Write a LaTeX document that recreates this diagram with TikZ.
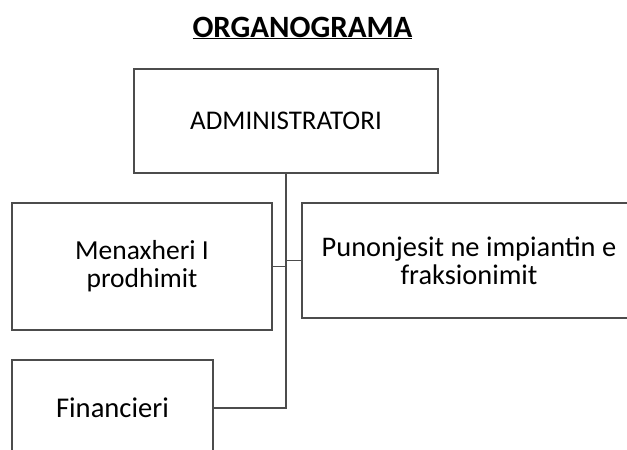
\documentclass[tikz,border=0pt]{standalone}
\usepackage{fontspec}
\setmainfont{Carlito}
\usepackage{tikz}
\usetikzlibrary{positioning}
\usetikzlibrary{calc}

\begin{document}
\begin{tikzpicture}[x=1pt, y=-1pt,
				post/.style={draw=black!70, line width=1.3pt, rectangle, inner sep=4pt, font=\fontsize{27.5}{28}\selectfont},
				link/.style={draw=black!70, line width=1.3pt},
				every text node part/.style={align=center}]
				\useasboundingbox[fill=white] (0, 0) rectangle (627, 450);
				
				\node[font=\fontsize{31}{34}\selectfont\bfseries, anchor=base](title) at (302.5, 37) {\underline{ORGANOGRAMA}};
				
				\node[post, minimum width=304pt, minimum height=104pt, font=\fontsize{27}{28}\selectfont](admin) at (286, 121) {ADMINISTRATORI};
				
				\node[post, minimum width=260pt, minimum height=127pt](menax) at (142, 266.5) {Menaxheri I\\prodhimit};
				
				\node[post, minimum width=334pt, minimum height=115pt, font=\fontsize{28.4}{28}\selectfont](punon) at (469, 260.5) {Punonjesit ne impiantin e\\fraksionimit};
				
				\node[post, minimum width=201pt, minimum height=96pt, font=\fontsize{28.6}{29}\selectfont](fin) at (112.5, 408) {Financieri};
				
				\draw[link] (admin.south) -- (admin.south |- fin.east) -- (fin.east);
				\draw[link] (menax.east) -- (menax.east -| admin.south);
				\draw[link] (punon.west) -- (punon.west -| admin.south);
			\end{tikzpicture}
\end{document}
